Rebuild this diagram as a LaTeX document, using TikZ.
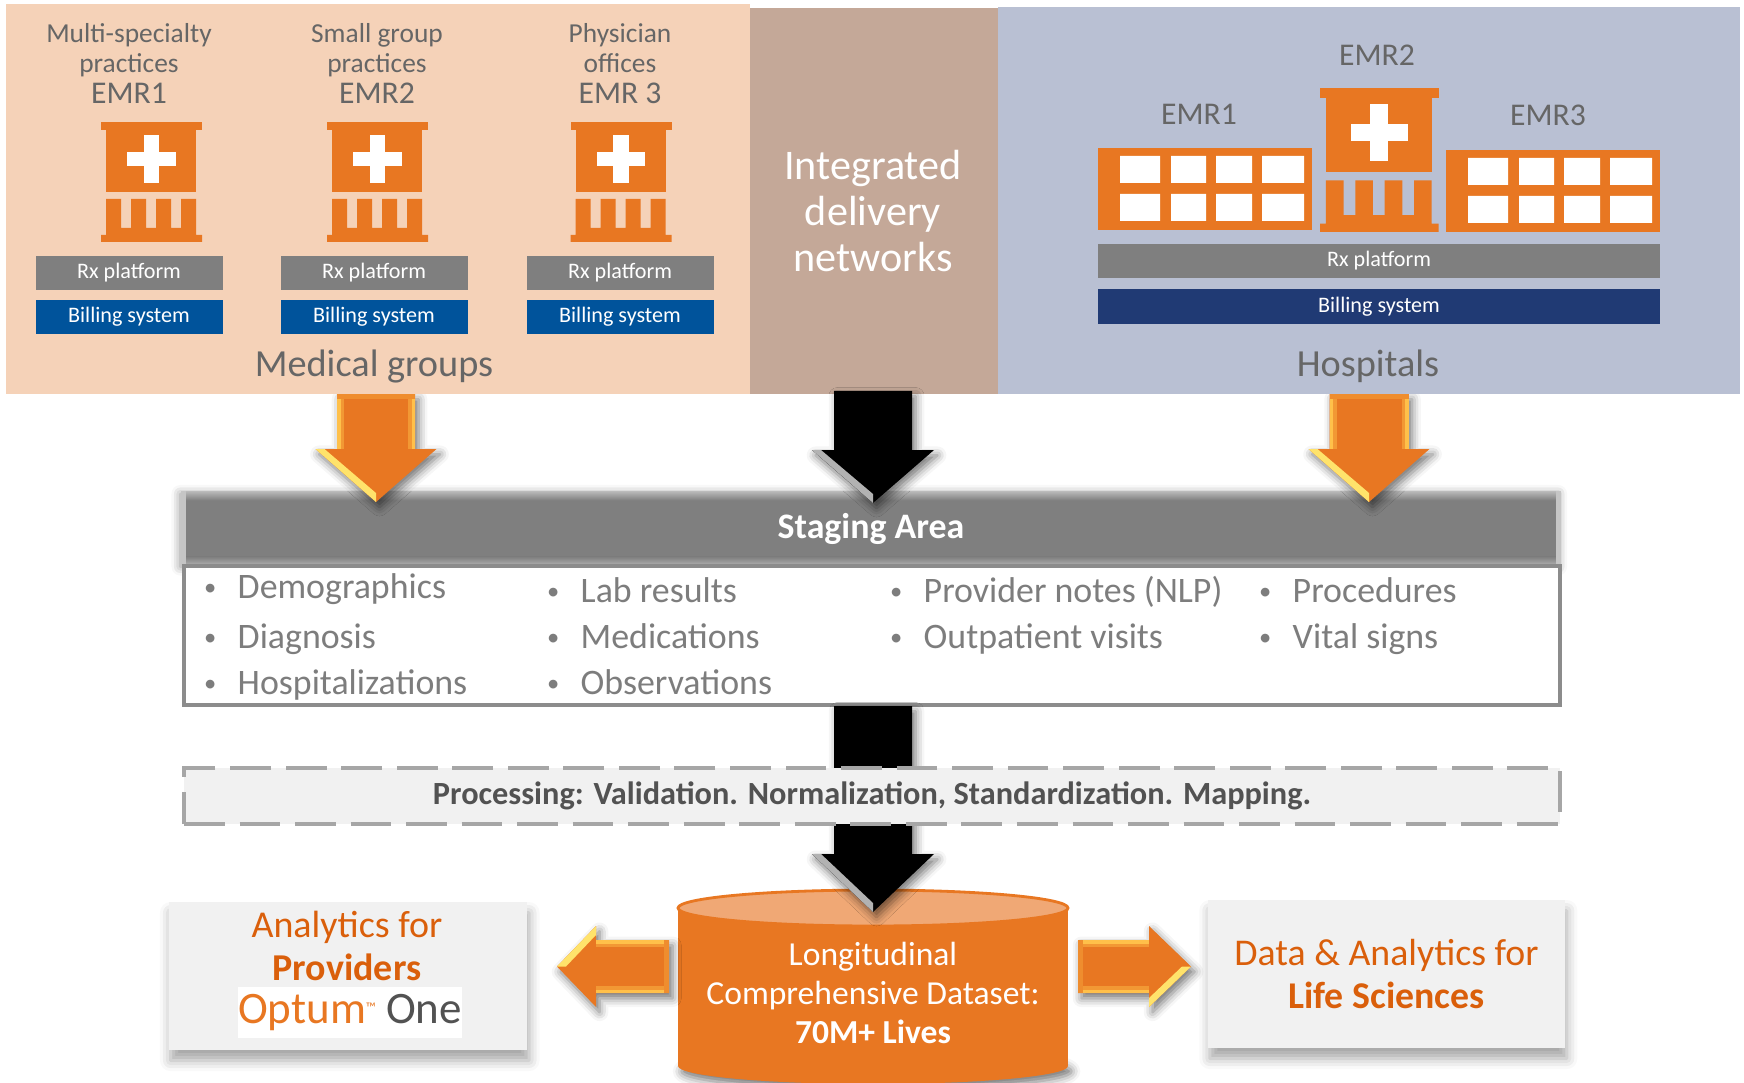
\documentclass[tikz,border=0pt]{standalone}
\usepackage{fontspec}
\setmainfont{Carlito}
\usetikzlibrary{shapes.geometric,calc,shadows.blur}

\definecolor{emrorange}{HTML}{E87722}
\definecolor{peachpanel}{HTML}{F5D2B8}
\definecolor{idnpanel}{HTML}{C4A898}
\definecolor{hosppanel}{HTML}{B9C0D3}
\definecolor{rxgray}{HTML}{7F7F7F}
\definecolor{billblue}{HTML}{00539B}
\definecolor{billnavy}{HTML}{203A74}
\definecolor{labelgray}{HTML}{666666}
\definecolor{softgray}{HTML}{F1F1F1}
\definecolor{edgegray}{HTML}{8C8C8C}
\definecolor{dashgray}{HTML}{A6A6A6}
\definecolor{titleorange}{HTML}{DA5F0B}
\definecolor{capfill}{HTML}{F0A875}
\definecolor{arrowbevel}{HTML}{FFC04A}
\definecolor{arrowlit}{HTML}{FFE36B}

\newcommand{\fpx}[1]{\fontsize{#1}{#1}\selectfont}

\tikzset{
  panel/.style={inner sep=0pt,minimum height=3.9cm},
  toplabel/.style={inner sep=0pt,align=center,text=labelgray,font={\fontsize{7.8}{8.5}\selectfont}},
  emrlabel/.style={inner sep=0pt,text=labelgray,font=\fpx{9}},
  grouplabel/.style={inner sep=0pt,text=labelgray,font=\fpx{10.9}},
  rxbar/.style={inner sep=0pt,minimum height=.34cm,fill=rxgray,text=white,font=\fpx{6.3}},
  billbar/.style={inner sep=0pt,minimum height=.34cm,fill=billblue,text=white,font=\fpx{6.3}},
  listitem/.style={anchor=west,inner sep=0pt,text=labelgray!85,text height=7pt,text depth=2pt,font=\fpx{10.2},
    label={[inner sep=0pt,text=labelgray!85,font=\fpx{7},label distance=.2cm]left:•}},
  softbox/.style={inner sep=0pt,fill=softgray,align=center,text=titleorange,
    blur shadow={shadow xshift=.5pt,shadow yshift=-3pt,shadow blur radius=3pt,shadow opacity=35}},
  arrowshade/.style={blur shadow={shadow xshift=1pt,shadow yshift=-1.5pt,shadow blur radius=2.5pt,shadow opacity=55}},
}

% start, tip, head length, head half width, shaft half width, fill, bevel, lit edge
\newcommand{\bevelarrow}[8]{
  \coordinate (hb) at ($(#2)!#3!(#1)$);
  \coordinate (sl) at ($(#1)!#5!90:(#2)$);
  \coordinate (sr) at ($(#1)!#5!-90:(#2)$);
  \coordinate (nl) at ($(hb)!#5!90:(#2)$);
  \coordinate (nr) at ($(hb)!#5!-90:(#2)$);
  \coordinate (hl) at ($(hb)!#4!90:(#2)$);
  \coordinate (hr) at ($(hb)!#4!-90:(#2)$);
  \fill[#6,arrowshade] (sl) -- (nl) -- (hl) -- (#2) -- (hr) -- (nr) -- (sr) -- cycle;
  \fill[#7!45!#6] (sl) -- (nl) -- ($(nl)!.07cm!(nr)$) -- ($(sl)!.07cm!(sr)$) -- cycle;
  \fill[#7!45!#6] (sr) -- (nr) -- ($(nr)!.07cm!(nl)$) -- ($(sr)!.07cm!(sl)$) -- cycle;
  \fill[#7] (sl) -- (nl) -- ($(nl)!.035cm!(nr)$) -- ($(sl)!.035cm!(sr)$) -- cycle;
  \fill[#7] (sr) -- (nr) -- ($(nr)!.035cm!(nl)$) -- ($(sr)!.035cm!(sl)$) -- cycle;
  \fill[#7!30!#6] (sl) -- (sr) -- ($(sr)!.05cm!(nr)$) -- ($(sl)!.05cm!(nl)$) -- cycle;
  \fill[#8] (hr) -- (#2) -- ($(#2)!.09cm!(#1)$) -- ($(hr)!.09cm!(hl)$) -- cycle;
}

% small clinic, top left corner at #1, scaled by #2 and #3
\newcommand{\clinic}[3]{
  \begin{scope}[shift={#1},xscale=#2,yscale=#3]
    \fill[emrorange] (0,0) rectangle (1.01,.08);
    \fill[emrorange] (.05,.08) rectangle (.95,.70);
    \fill[white] (.425,.13) rectangle (.58,.61);
    \fill[white] (.26,.30) rectangle (.745,.44);
    \fill[emrorange] (.05,.77) -- (.20,.77) -- (.20,1.06) -- (.30,1.06) -- (.30,.77)
      -- (.45,.77) -- (.45,1.06) -- (.55,1.06) -- (.55,.77)
      -- (.70,.77) -- (.70,1.06) -- (.80,1.06) -- (.80,.77)
      -- (.95,.77) -- (.95,1.13) -- (1.01,1.13) -- (1.01,1.20)
      -- (0,1.20) -- (0,1.13) -- (.05,1.13) -- cycle;
  \end{scope}
}

% hospital wing, top left corner at #1
\newcommand{\wing}[1]{
  \begin{scope}[shift={#1}]
    \fill[emrorange] (0,0) rectangle (2.14,.82);
    \fill[white]
      (.22,.08) rectangle (.62,.35) (.73,.08) rectangle (1.08,.35)
      (1.18,.08) rectangle (1.54,.35) (1.64,.08) rectangle (2.06,.35)
      (.22,.46) rectangle (.62,.73) (.73,.46) rectangle (1.08,.73)
      (1.18,.46) rectangle (1.54,.73) (1.64,.46) rectangle (2.06,.73);
  \end{scope}
}

\begin{document}
\begin{tikzpicture}[y=-1cm]
  \useasboundingbox (0,0) rectangle (17.44,10.83);

  \coordinate (groupsout) at (3.76,3.94);
  \coordinate (groupstip) at (3.76,5.02);
  \coordinate (idnout) at (8.73,3.91);
  \coordinate (idntip) at (8.73,5.03);
  \coordinate (hospout) at (13.69,3.94);
  \coordinate (hosptip) at (13.69,5.02);

  % staging area
  \node[inner sep=0pt,fill=rxgray,minimum width=13.78cm,minimum height=.73cm,text=white,font=\bfseries\fpx{10.2},
    blur shadow={shadow xshift=-.5pt,shadow yshift=-.5pt,shadow blur radius=2.5pt,shadow opacity=45}] (staging) at (8.71,5.285) {Staging Area};
  \shade[top color=rxgray!55,bottom color=rxgray] (staging.north west) rectangle ($(staging.north east)+(0,.09)$);
  \shade[top color=rxgray,bottom color=rxgray!60] ($(staging.south west)+(0,-.09)$) rectangle (staging.south east);
  \fill[rxgray!45] (staging.north west) rectangle ($(staging.south west)+(.05,0)$);
  \fill[rxgray!45] (staging.north east) rectangle ($(staging.south east)+(-.05,0)$);
  \node[inner sep=0pt,draw=edgegray,line width=1pt,fill=white,minimum width=13.76cm,minimum height=1.39cm] (fields) at (8.72,6.355) {};

  \bevelarrow{groupsout}{groupstip}{.53cm}{.605cm}{.39cm}{emrorange}{arrowbevel}{arrowlit}
  \bevelarrow{hospout}{hosptip}{.53cm}{.605cm}{.395cm}{emrorange}{arrowbevel}{arrowlit}

  % top panels
  \node[panel,fill=peachpanel,minimum width=7.44cm] (groups) at (3.78,1.99) {};
  \node[panel,fill=idnpanel,minimum width=2.48cm,minimum height=3.86cm] (idn) at (8.74,2.01) {};
  \node[panel,fill=hosppanel,minimum width=7.42cm,minimum height=3.87cm] (hosp) at (13.69,2.005) {};
  \bevelarrow{idnout}{idntip}{.53cm}{.61cm}{.39cm}{black}{black}{gray!60}

  % medical groups
  \node[toplabel] (multi) at (1.29,.50) {Multi-specialty\\practices};
  \node[toplabel] (small) at (3.77,.50) {Small group\\practices};
  \node[toplabel] (phys) at (6.20,.485) {Physician\\offices};
  \node[emrlabel] (emra) at (1.29,.93) {EMR1};
  \node[emrlabel] (emrb) at (3.77,.93) {EMR2};
  \node[emrlabel] (emrc) at (6.20,.93) {EMR 3};
  \clinic{(1.01,1.22)}{1}{1}
  \clinic{(3.27,1.22)}{1}{1}
  \clinic{(5.705,1.22)}{1}{1}
  \node[rxbar,minimum width=1.87cm] (rxa) at (1.29,2.73) {Rx platform};
  \node[rxbar,minimum width=1.87cm] (rxb) at (3.74,2.73) {Rx platform};
  \node[rxbar,minimum width=1.87cm] (rxc) at (6.20,2.73) {Rx platform};
  \node[billbar,minimum width=1.87cm] (billa) at (1.29,3.17) {Billing system};
  \node[billbar,minimum width=1.87cm] (billb) at (3.74,3.17) {Billing system};
  \node[billbar,minimum width=1.87cm] (billc) at (6.20,3.17) {Billing system};
  \node[grouplabel] (groupname) at (3.74,3.66) {Medical groups};

  % integrated networks
  \node[inner sep=0pt,align=center,text=white,font={\fontsize{12}{13.2}\selectfont}] (idnname) at (8.73,2.11)
    {Integrated\\delivery\\networks};

  % hospitals
  \node[emrlabel] (hema) at (11.99,1.14) {EMR1};
  \node[emrlabel] (hemb) at (13.77,.55) {EMR2};
  \node[emrlabel] (hemc) at (15.48,1.155) {EMR3};
  \wing{(10.98,1.48)}
  \clinic{(13.20,.88)}{1.175}{1.2}
  \wing{(14.46,1.50)}
  \node[rxbar,minimum width=5.62cm] (hrx) at (13.79,2.61) {Rx platform};
  \node[billbar,fill=billnavy,minimum width=5.62cm,minimum height=.35cm] (hbill) at (13.79,3.065) {Billing system};
  \node[grouplabel] (hospname) at (13.68,3.66) {Hospitals};

  \node[listitem] (demo) at (2.37,5.90) {Demographics};
  \node[listitem] (diag) at (2.37,6.395) {Diagnosis};
  \node[listitem] (hospit) at (2.37,6.855) {Hospitalizations};
  \node[listitem] (lab) at (5.80,5.935) {Lab results};
  \node[listitem] (med) at (5.80,6.395) {Medications};
  \node[listitem] (obs) at (5.80,6.855) {Observations};
  \node[listitem] (notes) at (9.23,5.935) {Provider notes (NLP)};
  \node[listitem] (visits) at (9.23,6.395) {Outpatient visits};
  \node[listitem] (proc) at (12.92,5.935) {Procedures};
  \node[listitem] (vital) at (12.92,6.395) {Vital signs};

  % dataset
  \node[ellipse,inner sep=0pt,fill=emrorange,minimum width=3.9cm,minimum height=.36cm,arrowshade] (storebase) at (8.73,10.66) {};
  \node[inner sep=0pt,fill=emrorange,minimum width=3.9cm,minimum height=1.58cm] (storebody) at (8.73,9.87) {};
  \node[ellipse,inner sep=0pt,fill=capfill,draw=emrorange,line width=.8pt,minimum width=3.9cm,minimum height=.36cm] (storecap) at (8.73,9.08) {};
  \node[inner sep=0pt,text=white,align=center,font={\fontsize{9.55}{11}\selectfont}] (storetext) at (8.73,9.93)
    {Longitudinal\\Comprehensive Dataset:\\\textbf{70M+ Lives}};

  % lower arrows
  \coordinate (fieldsout) at (8.73,7.06);
  \coordinate (storetip) at (8.73,9.12);
  \coordinate (leftout) at (6.69,9.665);
  \coordinate (lefttip) at (5.57,9.665);
  \coordinate (rightout) at (10.78,9.665);
  \coordinate (righttip) at (11.91,9.665);

  \bevelarrow{fieldsout}{storetip}{.58cm}{.61cm}{.39cm}{black}{black}{gray!60}
  \bevelarrow{leftout}{lefttip}{.39cm}{.405cm}{.265cm}{emrorange}{arrowbevel}{arrowlit}
  \bevelarrow{rightout}{righttip}{.42cm}{.405cm}{.265cm}{emrorange}{arrowbevel}{arrowlit}

  % processing
  \node[inner sep=0pt,draw=dashgray,line width=1pt,dash pattern=on 11.6pt off 4.2pt,fill=softgray,
    minimum width=13.76cm,minimum height=.56cm,text=labelgray!80!black,font=\bfseries\fpx{9.2}] (process) at (8.72,7.96)
    {Processing: Validation. Normalization, Standardization. Mapping.};

  % outputs
  \node[softbox,minimum width=3.585cm,minimum height=1.48cm] (provbox) at (3.48,9.76) {};
  \node[inner sep=0pt,align=center,text=titleorange,font={\fontsize{10.8}{12.2}\selectfont}] (provname) at (3.47,9.46)
    {Analytics for\\\textbf{Providers}};
  \node[inner sep=0pt,fill=white,minimum width=2.24cm,minimum height=.51cm,font=\fpx{12.8}] (optum) at (3.50,10.125)
    {\textcolor{emrorange}{Optum}\raisebox{3pt}{\textcolor{emrorange}{\fpx{4}™}} \textcolor{labelgray!80!black}{One}};
  \node[softbox,minimum width=3.57cm,minimum height=1.48cm,font={\fontsize{10.75}{12.2}\selectfont}] (lifebox) at (13.865,9.74)
    {Data \& Analytics for\\\textbf{Life Sciences}};
\end{tikzpicture}
\end{document}
